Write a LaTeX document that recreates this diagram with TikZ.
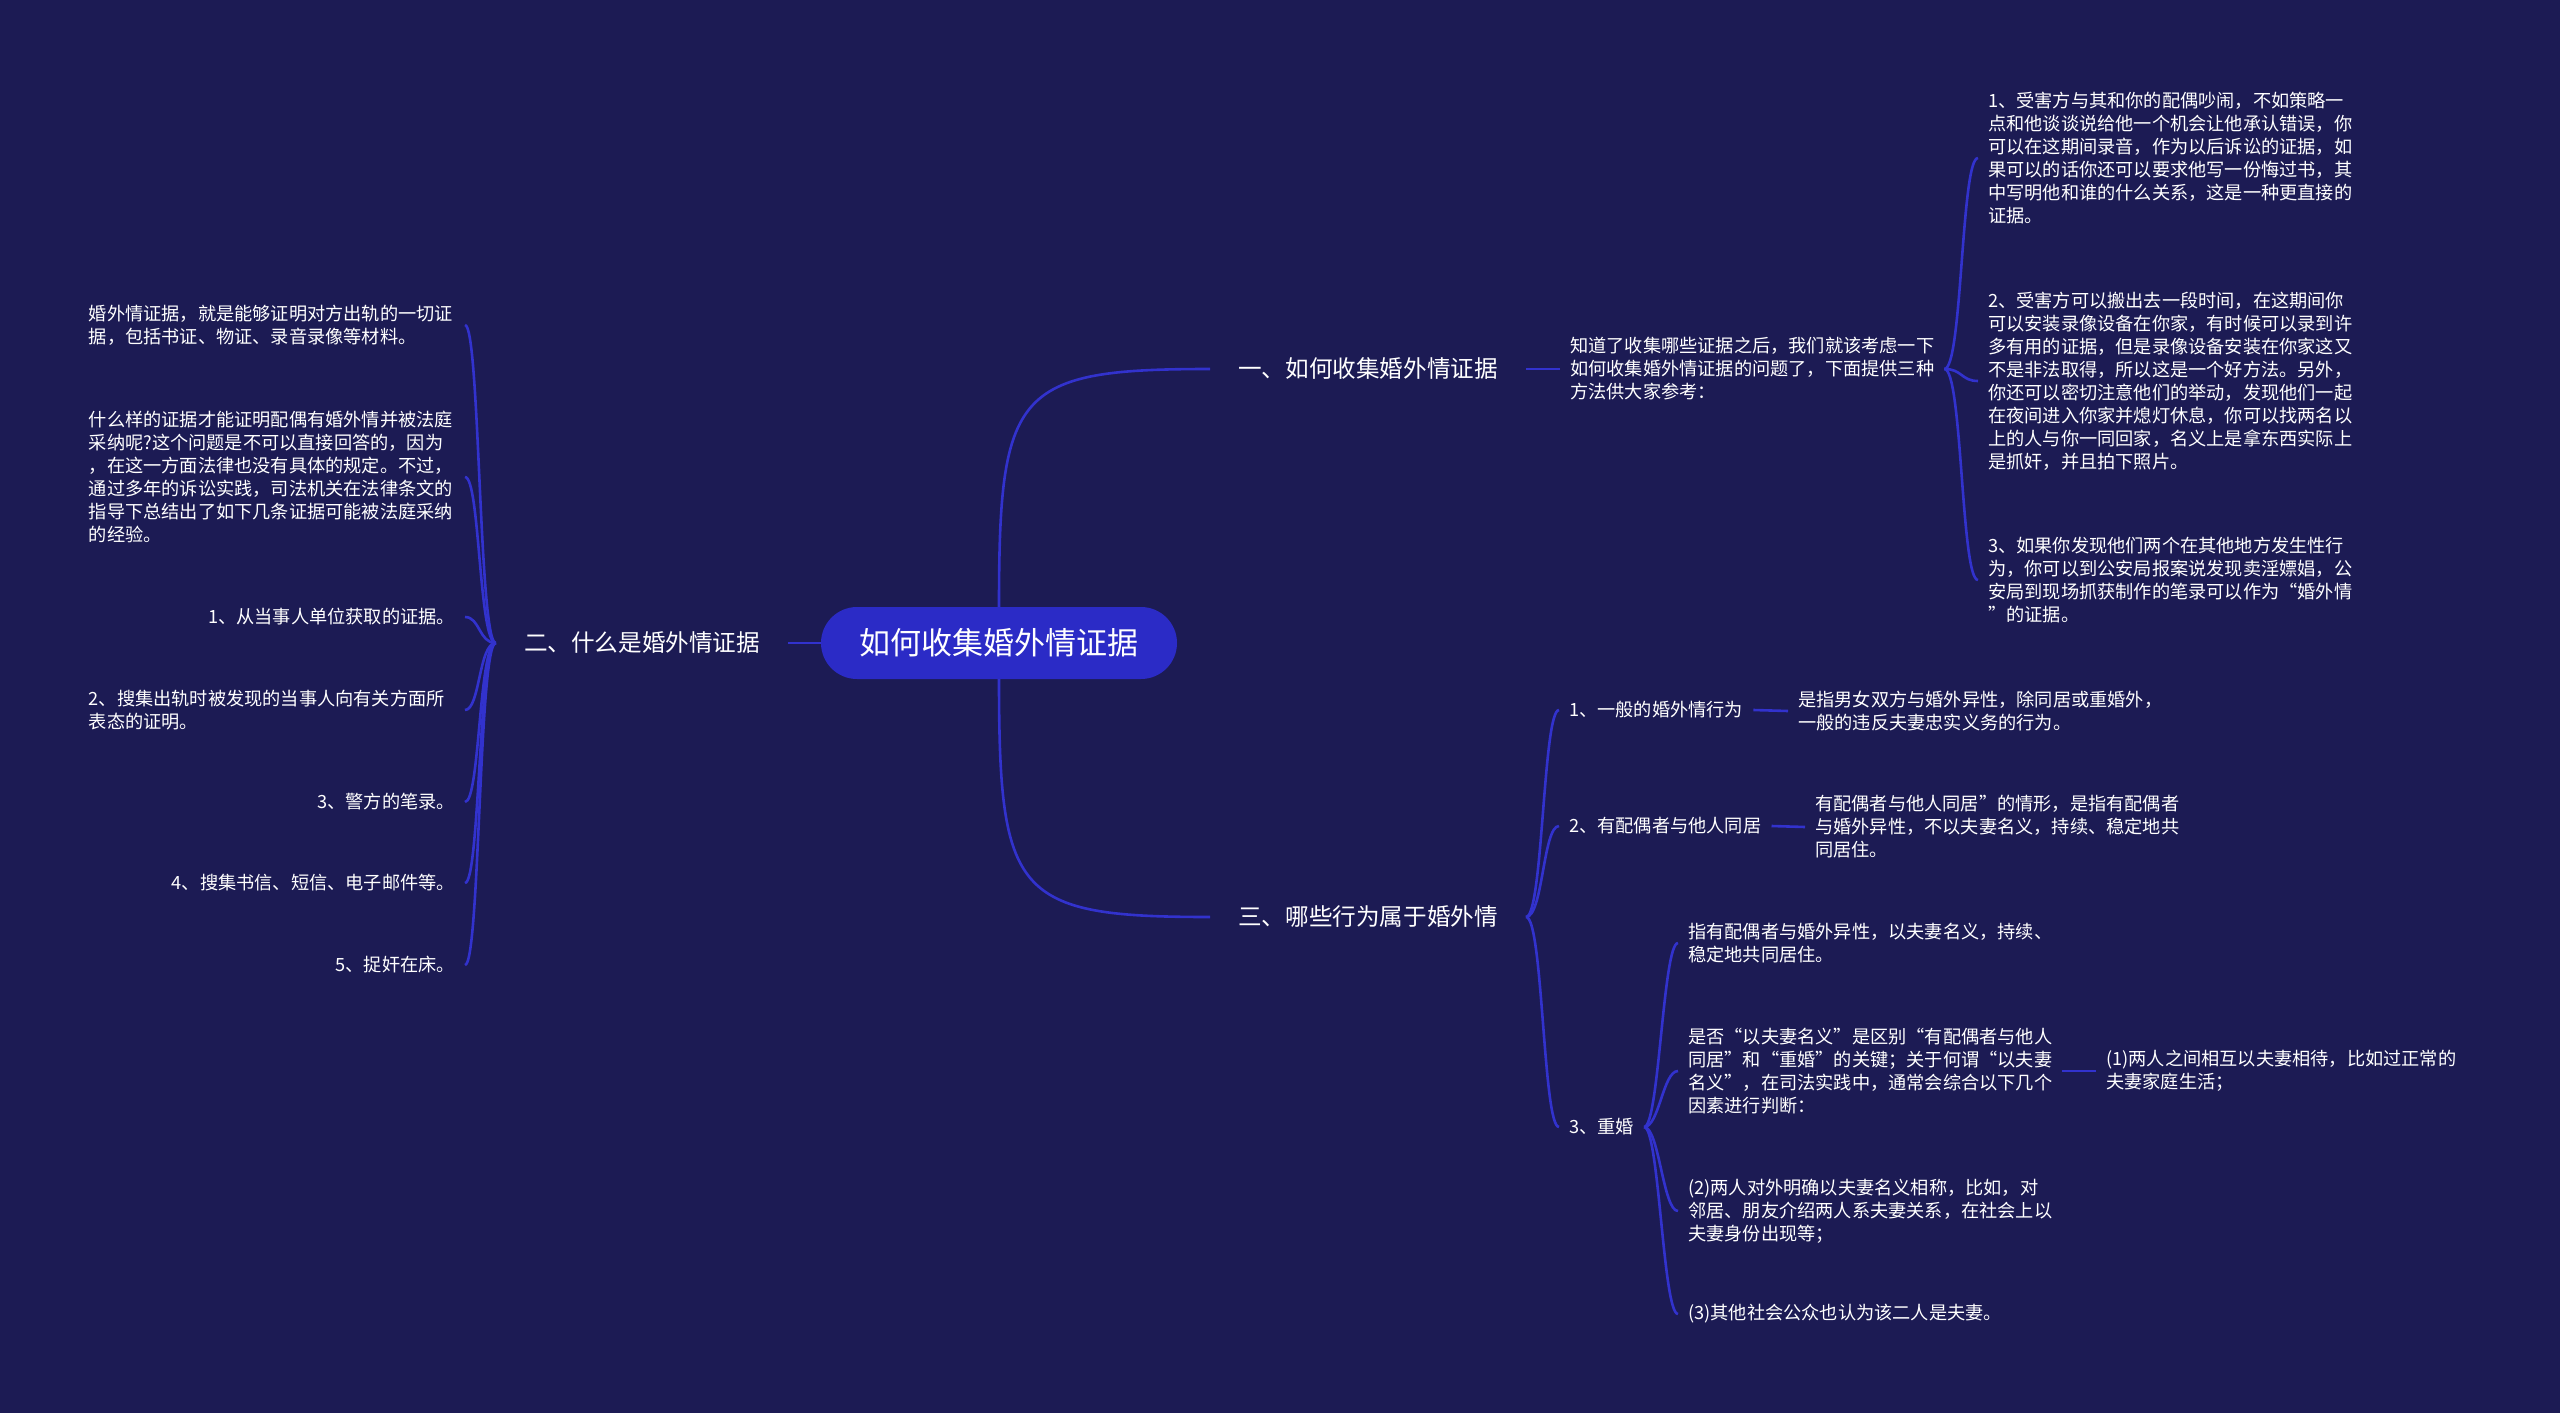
\documentclass[tikz,border=0pt]{standalone}
\usepackage{fontspec}
\setmainfont{Noto Sans CJK SC}
\usetikzlibrary{calc}
\definecolor{bgc}{RGB}{28,27,84}
\definecolor{linec}{RGB}{50,50,205}
\definecolor{rootc}{RGB}{43,43,198}
\tikzset{
  link/.style={draw=linec, line width=2.6pt},
  rootnode/.style={fill=rootc, text=white, rounded corners=36pt, minimum width=356pt, minimum height=72pt, inner sep=0pt, font=\fontsize{31}{36}\selectfont},
  mainlbl/.style={text=white, inner xsep=28pt, inner ysep=4pt, font=\fontsize{23.6}{28}\selectfont},
  txt/.style={text=white, inner xsep=10pt, inner ysep=2pt, align=left, font=\fontsize{18.2}{23}\selectfont},
  ltxt/.style={txt, text width=366pt},
}
\begin{document}
\begin{tikzpicture}[x=1pt,y=-1pt]
\fill[bgc] (0,0) rectangle (2560,1413);
\useasboundingbox (0,0) rectangle (2560,1413);

% root and main branches
\node[rootnode] (c) at (999,643) {如何收集婚外情证据};
\node[mainlbl] (l1) at (1368,369) {一、如何收集婚外情证据};
\node[mainlbl] (l2) at (642,643) {二、什么是婚外情证据};
\node[mainlbl] (l3) at (1368,917) {三、哪些行为属于婚外情};

% branch 1
\node[txt, anchor=west] (k) at (1560,369) {知道了收集哪些证据之后，我们就该考虑一下\\如何收集婚外情证据的问题了，下面提供三种\\方法供大家参考：};
\node[txt, anchor=west] (r1) at (1978,158) {1、受害方与其和你的配偶吵闹，不如策略一\\点和他谈谈说给他一个机会让他承认错误，你\\可以在这期间录音，作为以后诉讼的证据，如\\果可以的话你还可以要求他写一份悔过书，其\\中写明他和谁的什么关系，这是一种更直接的\\证据。};
\node[txt, anchor=west] (r2) at (1978,381) {2、受害方可以搬出去一段时间，在这期间你\\可以安装录像设备在你家，有时候可以录到许\\多有用的证据，但是录像设备安装在你家这又\\不是非法取得，所以这是一个好方法。另外，\\你还可以密切注意他们的举动，发现他们一起\\在夜间进入你家并熄灯休息，你可以找两名以\\上的人与你一同回家，名义上是拿东西实际上\\是抓奸，并且拍下照片。};
\node[txt, anchor=west] (r3) at (1978,580) {3、如果你发现他们两个在其他地方发生性行\\为，你可以到公安局报案说发现卖淫嫖娼，公\\安局到现场抓获制作的笔录可以作为“婚外情\\”的证据。};

% branch 2 (left)
\node[ltxt, anchor=east] (L1) at (465,325) {婚外情证据，就是能够证明对方出轨的一切证\\据，包括书证、物证、录音录像等材料。};
\node[ltxt, anchor=east] (L2) at (465,477) {什么样的证据才能证明配偶有婚外情并被法庭\\采纳呢?这个问题是不可以直接回答的，因为\\，在这一方面法律也没有具体的规定。不过，\\通过多年的诉讼实践，司法机关在法律条文的\\指导下总结出了如下几条证据可能被法庭采纳\\的经验。};
\node[txt, anchor=east] (L3) at (465,617) {1、从当事人单位获取的证据。};
\node[ltxt, anchor=east] (L4) at (465,710) {2、搜集出轨时被发现的当事人向有关方面所\\表态的证明。};
\node[txt, anchor=east] (L5) at (465,802) {3、警方的笔录。};
\node[txt, anchor=east] (L6) at (465,883) {4、搜集书信、短信、电子邮件等。};
\node[txt, anchor=east] (L7) at (465,965) {5、捉奸在床。};

% branch 3
\node[txt, anchor=west] (b1) at (1559,710) {1、一般的婚外情行为};
\node[txt, anchor=west] (b1d) at (1788,711) {是指男女双方与婚外异性，除同居或重婚外，\\一般的违反夫妻忠实义务的行为。};
\node[txt, anchor=west] (b2) at (1559,826) {2、有配偶者与他人同居};
\node[txt, anchor=west] (b2d) at (1805,827) {有配偶者与他人同居”的情形，是指有配偶者\\与婚外异性，不以夫妻名义，持续、稳定地共\\同居住。};
\node[txt, anchor=west] (b3) at (1559,1127) {3、重婚};
\node[txt, anchor=west] (c1) at (1678,943) {指有配偶者与婚外异性，以夫妻名义，持续、\\稳定地共同居住。};
\node[txt, anchor=west] (c2) at (1678,1071) {是否“以夫妻名义”是区别“有配偶者与他人\\同居”和“重婚”的关键；关于何谓“以夫妻\\名义”，在司法实践中，通常会综合以下几个\\因素进行判断：};
\node[txt, anchor=west] (c2d) at (2096,1071) {(1)两人之间相互以夫妻相待，比如过正常的\\夫妻家庭生活；};
\node[txt, anchor=west] (c3) at (1678,1211) {(2)两人对外明确以夫妻名义相称，比如，对\\邻居、朋友介绍两人系夫妻关系，在社会上以\\夫妻身份出现等；};
\node[txt, anchor=west] (c4) at (1678,1314) {(3)其他社会公众也认为该二人是夫妻。};

% root connectors
\draw[link] (c.north) .. controls (999,390) and (1015,369) .. (l1.west);
\draw[link] (c.south) .. controls (999,896) and (1015,917) .. (l3.west);
\draw[link] (c.west) -- (l2.east);

% straight connectors
\draw[link] (l1.east) -- (k.west);
\draw[link] (b1.east) -- (b1d.west);
\draw[link] (b2.east) -- (b2d.west);
\draw[link] (c2.east) -- (c2d.west);

% braces
\foreach \ch in {r1,r2,r3}
  \draw[link] (k.east) .. controls ($(k.east)+(18,0)$) and ($(\ch.west)+(-17,0)$) .. (\ch.west);
\foreach \ch in {L1,L2,L3,L4,L5,L6,L7}
  \draw[link] (l2.west) .. controls ($(l2.west)+(-17,0)$) and ($(\ch.east)+(15,0)$) .. (\ch.east);
\foreach \ch in {b1,b2,b3}
  \draw[link] (l3.east) .. controls ($(l3.east)+(17,0)$) and ($(\ch.west)+(-16,0)$) .. (\ch.west);
\foreach \ch in {c1,c2,c3,c4}
  \draw[link] (b3.east) .. controls ($(b3.east)+(15,0)$) and ($(\ch.west)+(-15,0)$) .. (\ch.west);
\end{tikzpicture}
\end{document}
